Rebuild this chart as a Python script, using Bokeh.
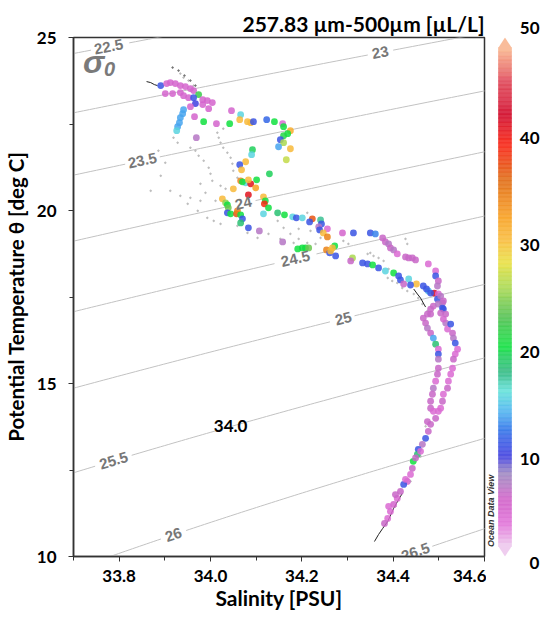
import numpy as np
from bokeh.plotting import figure
from bokeh.layouts import row
from bokeh.models import (ColumnDataSource, LinearColorMapper, FixedTicker, NumeralTickFormatter,
                          Range1d, Label, PolyAnnotation)
from bokeh.core.properties import value
from bokeh.embed import file_html
from bokeh.resources import INLINE

# ---------------- data ----------------
sal = [33.891, 33.904, 33.912, 33.923, 33.934, 33.945, 33.956, 33.963, 33.974, 33.983, 33.993, 34.004,
       33.901, 33.917, 33.934, 33.941, 33.952, 33.963, 33.967, 33.956, 33.983, 33.996,
       33.941, 33.939, 33.934, 33.932, 33.928, 33.926, 33.965, 33.985, 34.013, 34.042,
       34.046, 34.066, 34.064, 34.081, 34.088, 34.094, 34.123, 34.140, 34.158, 34.160,
       34.175, 34.169, 34.160, 34.153, 34.160, 34.149, 34.175, 34.166, 33.969,
       34.092, 34.090, 34.077, 34.064, 34.068, 34.129, 34.101, 34.066, 34.077, 34.088,
       34.099, 34.070, 34.083, 34.050, 34.083,
       34.026, 34.033, 34.037, 34.039, 34.037, 34.044, 34.057, 34.059, 34.066, 34.070,
       34.066, 34.083, 34.107,
       34.116, 34.120, 34.118, 34.127, 34.116, 34.147, 34.162, 34.180, 34.188, 34.201,
       34.223, 34.217, 34.241, 34.243, 34.237, 34.239, 34.256, 34.247, 34.256, 34.272,
       34.158, 34.201, 34.208, 34.215, 34.191, 34.254, 34.261, 34.274, 34.267, 34.263,
       34.289, 34.313, 34.350, 34.361, 34.377, 34.383, 34.390, 34.394, 34.401, 34.409,
       34.427, 34.434, 34.442, 34.449, 34.477, 34.493, 34.493, 34.499,
       34.311, 34.307, 34.333, 34.344, 34.355, 34.368, 34.383, 34.401, 34.412, 34.416,
       34.423, 34.434, 34.451, 34.438, 34.466, 34.477, 34.490, 34.499, 34.497, 34.508,
       34.510, 34.488, 34.482,
       34.497, 34.473, 34.482, 34.504, 34.510, 34.499, 34.508, 34.504, 34.482, 34.475,
       34.466, 34.471, 34.475, 34.482, 34.488, 34.493, 34.499, 34.499, 34.499, 34.499,
       34.497, 34.493, 34.488, 34.486, 34.482, 34.482, 34.488, 34.493,
       34.515, 34.519, 34.526, 34.530, 34.532, 34.536, 34.541, 34.536, 34.532, 34.530,
       34.526, 34.521, 34.519, 34.510, 34.508, 34.504, 34.515, 34.510,
       34.499, 34.482, 34.477, 34.471, 34.464, 34.455, 34.453, 34.444, 34.442, 34.438,
       34.431, 34.423, 34.416, 34.409, 34.401, 34.394, 34.388, 34.381,
       34.475, 34.460, 34.449, 34.427, 34.405, 34.390]
temp = [23.610, 23.668, 23.697, 23.668, 23.610, 23.581, 23.523, 23.465, 23.349, 23.204, 23.176, 23.118,
        23.378, 23.378, 23.407, 23.320, 23.262, 23.262, 23.089, 23.002, 23.060, 22.944,
        22.915, 22.799, 22.683, 22.538, 22.423, 22.307, 22.712, 22.567, 22.509, 22.509,
        22.886, 22.770, 22.625, 22.567, 22.538, 22.567, 22.625, 22.567, 22.509, 22.423,
        22.307, 22.220, 22.162, 22.046, 21.959, 21.843, 21.785, 21.467, 22.104,
        21.757, 21.612, 21.409, 21.322, 21.177, 21.061, 20.888, 20.859, 20.801, 20.772,
        20.656, 20.830, 20.888, 20.627, 20.453,
        20.337, 20.222, 20.164, 20.077, 19.932, 19.903, 19.903, 19.990, 19.874, 19.758,
        19.642, 19.498, 19.411,
        20.395, 20.280, 20.193, 20.077, 19.903, 19.932, 19.874, 19.816, 19.787, 19.787,
        19.758, 19.671, 19.729, 19.613, 19.527, 19.440, 19.469, 19.353, 19.237, 18.976,
        19.092, 18.918, 18.918, 18.918, 18.889, 18.861, 18.774, 18.687, 18.918, 18.832,
        19.353, 19.353, 19.353, 19.324, 19.208, 19.092, 19.034, 18.918, 18.861, 18.745,
        18.658, 18.629, 18.629, 18.571, 18.455, 18.252, 18.108, 17.963,
        18.629, 18.542, 18.484, 18.455, 18.426, 18.339, 18.252, 18.194, 18.108, 17.992,
        17.876, 18.021, 17.876, 17.847, 17.818, 17.673, 17.615, 17.586, 17.441, 17.326,
        17.152, 17.239, 17.007,
        17.818, 17.731, 17.615, 17.528, 17.384, 17.297, 17.181, 17.036, 17.152, 17.007,
        16.891, 16.746, 16.602, 16.457, 16.312, 16.138, 15.993, 15.849, 15.704, 15.443,
        15.269, 15.067, 14.864, 14.690, 14.487, 14.285, 14.198, 13.995,
        16.746, 16.573, 16.717, 16.457, 16.312, 16.167, 15.993, 15.849, 15.704, 15.443,
        15.269, 15.067, 14.864, 14.690, 14.487, 14.285, 17.007, 16.862,
        14.198, 13.821, 13.619, 13.416, 13.242, 13.097, 12.953, 12.750, 12.547, 12.373,
        12.171, 12.084, 11.881, 11.679, 11.505, 11.302, 11.099, 10.955,
        13.900, 13.040, 12.850, 12.230, 11.790, 11.450]
vol = [10, 4, 4, 4, 4, 4, 4, 4, 22, 4, 4, 4,
       4, 4, 4, 4, 4, 10, 9, 4, 4, 4,
       13, 13, 13, 13, 13, 15, 4, 20, 4, 20,
       4, 15, 31, 31, 31, 10, 11, 20, 3, 20,
       32, 20, 21, 10, 26, 13, 31, 27, 6,
       19, 15, 31, 10, 31, 19, 20, 35, 15, 42,
       33, 20, 31, 31, 42,
       31, 25, 20, 24, 10, 20, 38, 35, 20, 10,
       18, 10, 6,
       31, 20, 40, 20, 15, 18, 20, 15, 10, 15,
       38, 10, 17, 10, 6, 10, 3, 31, 35, 20,
       6, 20, 20, 24, 20, 35, 10, 10, 31, 31,
       4, 10, 10, 12, 5, 5, 6, 5, 6, 3,
       5, 5, 5, 5, 3, 3, 10, 5,
       26, 5, 10, 10, 20, 10, 15, 20, 10, 10,
       5, 15, 31, 10, 10, 14, 43, 3, 10, 6,
       10, 5, 5,
       6, 10, 10, 6, 5, 6, 10, 5, 5, 5,
       5, 5, 6, 5, 13, 18, 3, 10, 6, 5,
       5, 3, 6, 5, 5, 5, 3, 5,
       6, 3, 10, 5, 6, 10, 3, 3, 5, 3,
       3, 3, 5, 3, 5, 3, 5, 4,
       3, 5, 5, 10, 6, 10, 18, 20, 5, 3,
       4, 10, 5, 3, 4, 3, 3, 5,
       5, 3, 5, 3, 5, 3]

gray_sal = [33.934, 33.941, 33.952, 33.963, 33.919, 33.928, 33.956, 33.967, 33.974, 33.985,
            33.996, 34.000, 34.004, 34.018, 34.022, 34.028, 34.037, 34.044, 34.048, 34.050,
            34.028, 34.015, 34.059, 33.978, 34.022, 34.033, 33.989, 33.956, 33.950, 33.972,
            33.993, 34.007, 34.022, 34.059, 34.081, 34.103, 34.127, 34.153, 34.175, 34.193,
            34.212, 34.219, 34.241, 34.147, 34.160, 34.182, 34.193, 34.212, 34.230, 34.291,
            34.302, 34.344, 34.350, 34.357, 34.368, 34.379, 34.390, 34.388, 34.398, 34.409,
            34.420, 34.431, 34.445, 34.455, 34.464, 34.475, 34.431, 34.427, 33.886, 33.901,
            33.891, 33.869, 33.912, 33.934, 33.978, 34.011, 34.471, 34.460, 34.438, 34.405]
gray_temp = [23.957, 23.842, 23.755, 23.610, 22.104, 21.959, 21.814, 21.728, 21.583, 21.438,
             21.235, 21.061, 20.859, 22.104, 21.959, 21.814, 21.670, 21.525, 21.351, 21.148,
             22.365, 22.249, 20.946, 20.772, 20.714, 20.627, 20.511, 20.366, 20.193, 19.990,
             19.787, 19.700, 19.613, 19.556, 19.353, 19.208, 19.324, 19.179, 19.324, 19.469,
             19.932, 19.411, 19.208, 19.700, 19.498, 19.063, 19.179, 19.063, 19.034, 19.121,
             19.034, 18.745, 18.774, 18.687, 18.629, 18.542, 18.310, 18.050, 17.963, 17.905,
             17.760, 17.673, 17.586, 17.470, 17.297, 17.094, 19.034, 19.179, 21.728, 21.380,
             21.004, 20.569, 20.569, 20.424, 20.280, 20.280, 13.763, 12.895, 12.171, 11.447]

dark_sal = [33.917, 33.930, 33.943, 33.956, 33.967]
dark_temp = [24.131, 24.044, 23.900, 23.755, 23.610]

trace_top_sal = [33.860, 33.869, 33.877, 33.884]
trace_top_temp = [23.726, 23.697, 23.639, 23.610]
trace_mid_sal = [34.445, 34.453, 34.460, 34.466, 34.471]
trace_mid_temp = [17.731, 17.586, 17.470, 17.326, 17.210]
trace_tail_sal = [34.359, 34.368, 34.377, 34.388, 34.401, 34.412, 34.420]
trace_tail_temp = [10.433, 10.636, 10.810, 11.012, 11.389, 11.650, 11.823]

sigma_levels = [22.0, 22.5, 23.0, 23.5, 24.0, 24.5, 25.0, 25.5, 26.0, 26.5, 27.0]
label_levels = [22.5, 23.0, 23.5, 24.0, 24.5, 25.0, 25.5, 26.0, 26.5]
label_texts = ["22.5", "23", "23.5", "24", "24.5", "25", "25.5", "26", "26.5"]
label_sal = [33.777, 34.372, 33.851, 34.072, 34.186, 34.291, 33.788, 33.919, 34.449]

x_ticks = [33.8, 34.0, 34.2, 34.4, 34.6]
x_minor = [33.7, 33.9, 34.1, 34.3, 34.5]
y_ticks = [10, 15, 20, 25]
y_minor = [12.5, 17.5, 22.5]
cb_ticks = [0, 10, 20, 30, 40, 50]

cmap_vals = [0, 2, 4.5, 7, 9, 11.5, 13.5, 15.5, 17.5, 20, 23, 26, 28.5, 30.5, 33, 37, 40.5, 43.5, 47, 50]
cmap_cols = ["#ecc4ec", "#e070d8", "#d060c8", "#a088c0", "#4040e0", "#3070e8", "#50b8f0", "#60e0d8",
             "#30b880", "#10e040", "#50c050", "#a8d850", "#e8e040", "#f8c040", "#f8a020", "#e06810",
             "#f82010", "#d00828", "#e04858", "#f8b088"]

# ---------------- helpers ----------------
def hex2rgb(h):
    return [int(h[i:i + 2], 16) for i in (1, 3, 5)]

rgb = np.array([hex2rgb(c) for c in cmap_cols], dtype=float)
pal = []
for v in np.linspace(0, 50, 256):
    c = [np.interp(v, cmap_vals, rgb[:, k]) for k in range(3)]
    pal.append("#%02x%02x%02x" % tuple(int(round(q)) for q in c))
mapper = LinearColorMapper(palette=pal, low=0, high=50)


def sigma0(S, T):
    rw = (999.842594 + 6.793952e-2 * T - 9.095290e-3 * T ** 2 + 1.001685e-4 * T ** 3
          - 1.120083e-6 * T ** 4 + 6.536332e-9 * T ** 5)
    A = 8.24493e-1 - 4.0899e-3 * T + 7.6438e-5 * T ** 2 - 8.2467e-7 * T ** 3 + 5.3875e-9 * T ** 4
    B = -5.72466e-3 + 1.0227e-4 * T - 1.6546e-6 * T ** 2
    C = 4.8314e-4
    return rw + A * S + B * S ** 1.5 + C * S ** 2 - 1000.0


def sal_on(level, T):
    lo = np.full_like(T, 25.0)
    hi = np.full_like(T, 40.0)
    for _ in range(60):
        mid = 0.5 * (lo + hi)
        f = sigma0(mid, T) - level
        lo = np.where(f < 0, mid, lo)
        hi = np.where(f >= 0, mid, hi)
    return 0.5 * (lo + hi)


def temp_on(level, S):
    lo, hi = 2.0, 35.0
    for _ in range(60):
        mid = 0.5 * (lo + hi)
        if sigma0(S, mid) > level:
            lo = mid
        else:
            hi = mid
    return 0.5 * (lo + hi)


X0, X1, Y0, Y1 = 33.7, 34.6, 10.0, 25.0
W, H = 486, 615
BL, BR, BT, BB = 73, 2, 37, 59
FW, FH = W - BL - BR, H - BT - BB
ppS = FW / (X1 - X0)
ppT = FH / (Y1 - Y0)

# ---------------- main figure ----------------
p = figure(width=W, height=H, x_range=Range1d(X0, X1), y_range=Range1d(Y0, Y1),
           output_backend="svg", toolbar_location=None,
           min_border_left=BL, min_border_right=BR, min_border_top=BT, min_border_bottom=BB)
p.title.text = "257.83 µm-500µm [µL/L]"
p.title.align = "right"
p.title.offset = 0
p.title.text_font = "Lato"
p.title.text_font_size = "21px"
p.title.text_font_style = "bold"
p.title.text_color = "black"
p.title.standoff = 4
p.xgrid.visible = False
p.ygrid.visible = False
p.outline_line_color = "#333333"
p.outline_line_width = 1.5
p.outline_line_alpha = 1.0

p.xaxis.ticker = FixedTicker(ticks=x_ticks, minor_ticks=x_minor)
p.yaxis.ticker = FixedTicker(ticks=y_ticks, minor_ticks=y_minor)
p.xaxis.formatter = NumeralTickFormatter(format="0.0")
p.xaxis.axis_label = "Salinity [PSU]"
p.yaxis.axis_label = "Potential Temperature θ [deg C]"
for ax in (p.xaxis[0], p.yaxis[0]):
    ax.axis_line_color = "#333333"
    ax.axis_line_width = 1.5
    ax.major_tick_line_color = "#333333"
    ax.minor_tick_line_color = "#333333"
    ax.major_tick_in = 0
    ax.major_tick_out = 5
    ax.minor_tick_in = 0
    ax.minor_tick_out = 4
    ax.major_label_text_font = "Lato"
    ax.major_label_text_font_style = "bold"
    ax.major_label_text_font_size = "17px"
    ax.major_label_text_color = "black"
    ax.axis_label_text_font = "Lato"
    ax.axis_label_text_font_style = "bold"
    ax.axis_label_text_color = "black"
p.xaxis.major_label_standoff = 8
p.xaxis.axis_label_standoff = 0
p.xaxis.axis_label_text_font_size = "21px"
p.yaxis.major_label_standoff = 12
p.yaxis.axis_label_standoff = 6
p.yaxis.axis_label_text_font_size = "20.5px"

# isopycnals
lab_x, lab_y, lab_ang = [], [], []
for lev, s in zip(label_levels, label_sal):
    t = temp_on(lev, s)
    ds = 0.002
    dt = temp_on(lev, s + ds) - temp_on(lev, s - ds)
    lab_x.append(s)
    lab_y.append(t)
    lab_ang.append(float(np.arctan2(dt * ppT, 2 * ds * ppS)))

T_grid = np.linspace(7.0, 28.0, 600)
seg_xs, seg_ys = [], []
for lev in sigma_levels:
    S_line = sal_on(lev, T_grid)
    keep = np.ones_like(T_grid, dtype=bool)
    for i, ll in enumerate(label_levels):
        if ll == lev:
            txt = label_texts[i]
            wpx = 8.3 * sum(ch.isdigit() for ch in txt) + 4.2 * txt.count(".")
            r = 0.5 * wpx + 3
            d = np.hypot((S_line - lab_x[i]) * ppS, (T_grid - lab_y[i]) * ppT)
            keep &= d > r
    cur_x, cur_y = [], []
    for k in range(len(T_grid)):
        if keep[k]:
            cur_x.append(float(S_line[k]))
            cur_y.append(float(T_grid[k]))
        elif cur_x:
            seg_xs.append(cur_x)
            seg_ys.append(cur_y)
            cur_x, cur_y = [], []
    if cur_x:
        seg_xs.append(cur_x)
        seg_ys.append(cur_y)
p.multi_line(xs=seg_xs, ys=seg_ys, line_color="#c2c2c2", line_width=1)

# small gray dots and traces
p.scatter(gray_sal, gray_temp, size=1.6, color="#b8b8b8", alpha=0.9)
p.scatter(dark_sal, dark_temp, size=1.6, color="#707070", alpha=0.9)
for xs_, ys_ in ((trace_top_sal, trace_top_temp), (trace_mid_sal, trace_mid_temp),
                 (trace_tail_sal, trace_tail_temp)):
    p.line(xs_, ys_, line_color="#222222", line_width=1)

# coloured samples
src = ColumnDataSource(dict(s=sal, t=temp, v=vol))
p.scatter("s", "t", source=src, size=6.8, fill_color={"field": "v", "transform": mapper},
          line_color=None, fill_alpha=0.85)

# contour labels
p.text(x=lab_x, y=lab_y, text=label_texts, angle=lab_ang, text_align="center",
       text_baseline="middle", text_font=value("Liberation Sans"), text_font_style="bold",
       text_font_size="15px", text_color="#777777")

# sigma-0 symbol and loose label
p.text(x=[33.744], y=[24.28], text=["σ"], text_align="center", text_baseline="middle",
       text_font=value("Liberation Sans"), text_font_style="bold italic",
       text_font_size="32px", text_color="#7a7a7a")
p.text(x=[33.779], y=[24.10], text=["0"], text_align="center", text_baseline="middle",
       text_font=value("Liberation Sans"), text_font_style="bold italic",
       text_font_size="20px", text_color="#7a7a7a")
p.text(x=[34.044], y=[13.76], text=["34.0"], text_align="center", text_baseline="middle",
       text_font=value("Lato"), text_font_style="bold", text_font_size="17px", text_color="black")

# ---------------- colour bar (frame aligned with the main frame) ----------------
CBW = 55
ppV = 10.7          # pixels per colour unit
v_top = (565 - BT) / ppV
v_bot = (565 - (BT + FH)) / ppV
cb = figure(width=CBW, height=H, x_range=Range1d(0, CBW), y_range=Range1d(v_bot, v_top),
            x_axis_location="below", y_axis_location=None,
            output_backend="svg", toolbar_location=None,
            min_border_left=0, min_border_right=0, min_border_top=BT, min_border_bottom=BB)
cb.outline_line_color = None
cb.grid.visible = False
# the end labels sit outside the frame: "50" as the title, "0" as the single bottom tick
cb.title.text = str(cb_ticks[-1])
cb.title.align = "right"
cb.title.offset = 2
cb.title.standoff = 7
cb.title.text_font = "Lato"
cb.title.text_font_size = "17px"
cb.title.text_font_style = "bold"
cb.title.text_color = "black"
zero_x = 48
cb.xaxis.ticker = FixedTicker(ticks=[zero_x], minor_ticks=[])
cb.xaxis.major_label_overrides = {zero_x: str(cb_ticks[0])}
cb.xaxis.axis_line_color = None
cb.xaxis.major_tick_line_color = None
cb.xaxis.minor_tick_line_color = None
cb.xaxis.major_tick_out = 0
cb.xaxis.major_tick_in = 0
cb.xaxis.major_label_standoff = 0
cb.xaxis.major_label_text_font = "Lato"
cb.xaxis.major_label_text_font_style = "bold"
cb.xaxis.major_label_text_font_size = "17px"
cb.xaxis.major_label_text_color = "black"

bx0, bx1 = 12, 25
bxm = 0.5 * (bx0 + bx1)
v_lo = v_bot + 10 / ppV
v_hi = v_top - 10 / ppV
edges = np.linspace(v_lo, v_hi, 121)
mids = np.linspace(0, 50, 120)
csrc = ColumnDataSource(dict(b=edges[:-1], t=edges[1:], m=mids))
cb.quad(left=bx0, right=bx1, bottom="b", top="t", source=csrc,
        fill_color={"field": "m", "transform": mapper},
        line_color={"field": "m", "transform": mapper}, line_width=0.6, fill_alpha=0.85, line_alpha=0.85)
cb.add_layout(PolyAnnotation(xs=[bx0, bx1, bxm], ys=[v_hi, v_hi, v_top],
                             xs_units="data", ys_units="data", fill_color=pal[-1], fill_alpha=0.85,
                             line_color=None))
cb.add_layout(PolyAnnotation(xs=[bx0, bx1, bxm], ys=[v_lo, v_lo, v_bot],
                             xs_units="data", ys_units="data", fill_color=pal[0], fill_alpha=0.85,
                             line_color=None))
for v in cb_ticks[1:-1]:
    cb.add_layout(Label(x=53, y=v, text=str(v), text_align="right", text_baseline="middle",
                        text_font="Lato", text_font_style="bold", text_font_size="17px",
                        text_color="black"))
cb.text(x=[4], y=[5.1], text=["Ocean Data View"], angle=np.pi / 2, text_align="center",
        text_baseline="middle", text_font=value("Liberation Sans"), text_font_style="bold italic",
        text_font_size="9px", text_color="#333333")

layout = row(p, cb)
open("out.html", "w").write(file_html(layout, INLINE))
